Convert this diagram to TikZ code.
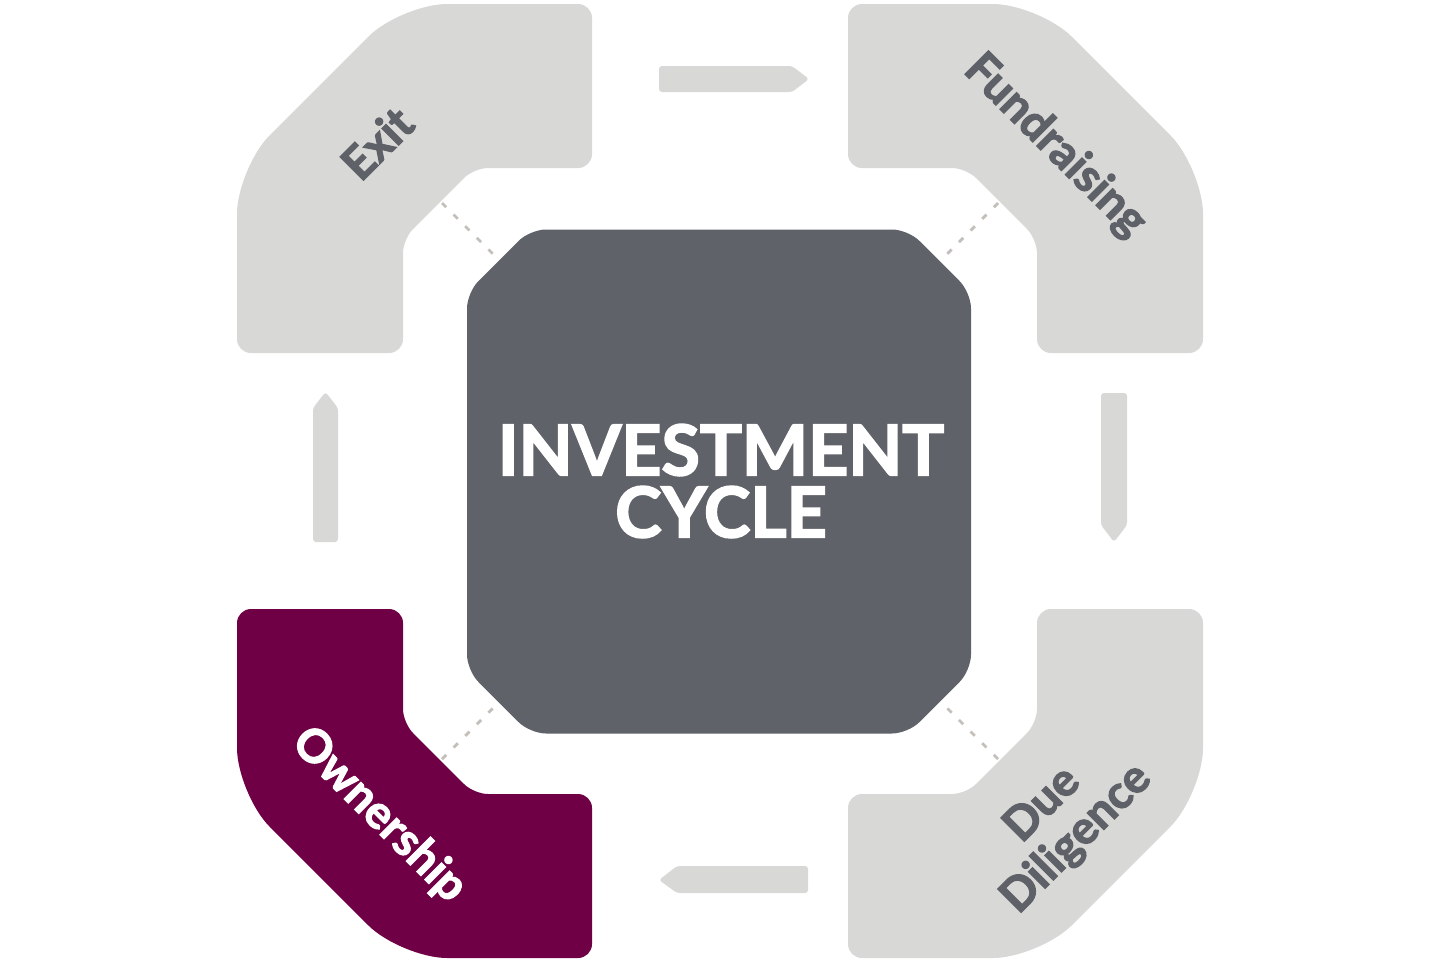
\documentclass[tikz,border=0pt]{standalone}
\usepackage{fontspec}
\setmainfont{Lato}[BoldFeatures={FakeBold=2.5}]
\definecolor{lightgrey}{HTML}{D8D8D6}
\definecolor{slate}{HTML}{5F6269}
\definecolor{labelgrey}{HTML}{5F6168}
\definecolor{plum}{HTML}{700046}
\definecolor{dashgrey}{HTML}{C4BFBA}
\tikzset{
  elbowpath/.style={rounded corners=7pt},
  arrowshape/.style={fill=lightgrey, rounded corners=1.5pt},
  dashlink/.style={draw=dashgrey, line width=1.4pt, dash pattern=on 3pt off 5.2pt},
  elbowlabel/.style={font=\fontsize{23}{24}\selectfont\bfseries, text=labelgrey, inner sep=0pt, align=center},
}
\newcommand{\elbowshape}{(-483,128) -- (-483,253) .. controls (-483,291.4) and (-467.7,328.3) .. (-440.6,355.4) -- (-361.4,434.6) .. controls (-334.3,461.7) and (-297.4,477) .. (-259,477) -- (-128,477) -- (-128,313) -- (-246,313) -- (-317,242) -- (-317,128) -- cycle}
\begin{document}
\begin{tikzpicture}[x=0.5pt,y=0.5pt]
\useasboundingbox (0,0) rectangle (1440,-960);
\fill[white] (0,0) rectangle (1440,-960);

% elbows
\begin{scope}[shift={(720,-481)}]
  \fill[lightgrey, elbowpath] \elbowshape;
  \draw[dashlink] (-278,278) -- (-226,226);
\end{scope}
\begin{scope}[shift={(720,-481)}, xscale=-1]
  \fill[lightgrey, elbowpath] \elbowshape;
  \draw[dashlink] (-278,278) -- (-226,226);
\end{scope}
\begin{scope}[shift={(720,-481)}, yscale=-1]
  \fill[plum, elbowpath] \elbowshape;
  \draw[dashlink] (-278,278) -- (-226,226);
\end{scope}
\begin{scope}[shift={(720,-481)}, xscale=-1, yscale=-1]
  \fill[lightgrey, elbowpath] \elbowshape;
  \draw[dashlink] (-278,278) -- (-226,226);
\end{scope}

% central octagon
\begin{scope}[shift={(719,-481.5)}]
  \fill[slate, rounded corners=8pt] (-252,-189) -- (-252,189) -- (-189,252) -- (189,252) -- (252,189) -- (252,-189) -- (189,-252) -- (-189,-252) -- cycle;
\end{scope}
\node[font=\fontsize{35}{31}\selectfont\bfseries, text=white, align=center, inner sep=0pt] (center) at (721,-481) {INVESTMENT\\CYCLE};

% arrows
\fill[arrowshape] (659,-66) -- (792,-66) -- (809,-79) -- (792,-92) -- (659,-92) -- cycle;
\fill[arrowshape] (1101,-393) -- (1127,-393) -- (1127,-525) -- (1114,-542) -- (1101,-525) -- cycle;
\fill[arrowshape] (808,-866) -- (677,-866) -- (659,-880) -- (677,-893) -- (808,-893) -- cycle;
\fill[arrowshape] (313,-542) -- (313,-408) -- (325.5,-392) -- (338,-408) -- (338,-542) -- cycle;

% labels
\node[elbowlabel, rotate=45] (exit) at (377,-143) {Exit};
\node[elbowlabel, rotate=-45] (fund) at (1055,-146) {Fundraising};
\node[elbowlabel, rotate=-45, text=white] (own) at (379,-815) {Ownership};
\node[elbowlabel, rotate=45] (due) at (1060,-822) {Due\\Diligence};
\end{tikzpicture}
\end{document}
